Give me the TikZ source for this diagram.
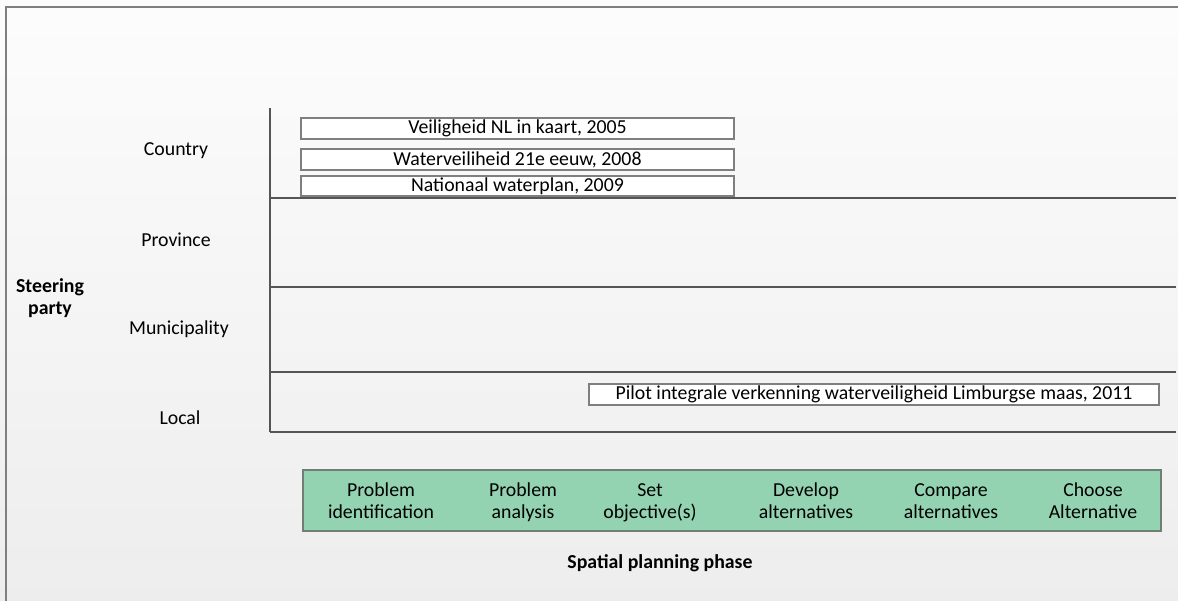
\documentclass[tikz,border=0pt]{standalone}
\usepackage{fontspec}
\setmainfont{Carlito}
\definecolor{framegray}{HTML}{7F7F7F}
\definecolor{axisgray}{HTML}{555555}
\definecolor{phasegreen}{HTML}{93D3B1}
\definecolor{phaseedge}{HTML}{6F7F74}
\newcommand{\phaselines}[2]{\strut#1\\\strut#2}
\tikzset{
  every node/.style={font=\fontsize{19.8}{21.5}\selectfont, text=black},
  label/.style={inner sep=0pt, anchor=center},
  boldlabel/.style={label, font=\fontsize{19.8}{22}\selectfont\bfseries, align=center},
  studybox/.style={draw=framegray, line width=1.3pt, fill=white, inner sep=0pt,
    minimum height=21pt, anchor=center},
  phasetext/.style={label, align=center},
  axisline/.style={draw=axisgray, line width=2.2pt},
  levelline/.style={draw=axisgray, line width=1.7pt},
}
\begin{document}
\begin{tikzpicture}[x=1pt, y=-1pt]
  % page and background
  \useasboundingbox (0,0) rectangle (1178,601);
  \shade[top color=white!99!black, bottom color=white!93!black] (0,0) rectangle (1178,601);
  \draw[framegray, line width=1.5pt] (6,601) -- (6,7) -- (1178,7);

  % axes and level separators
  \coordinate (axtop) at (270,108);
  \coordinate (axorig) at (270,432);
  \coordinate (axend) at (1176,432);
  \coordinate (l1a) at (270,198); \coordinate (l1b) at (1176,198);
  \coordinate (l2a) at (270,287); \coordinate (l2b) at (1176,287);
  \coordinate (l3a) at (270,372); \coordinate (l3b) at (1176,372);
  \draw[axisline] (axtop) -- (axorig);
  \draw[axisline, line width=2.8pt] (axorig) -- (axend);
  \draw[levelline] (l1a) -- (l1b);
  \draw[levelline] (l2a) -- (l2b);
  \draw[levelline] (l3a) -- (l3b);

  % steering parties
  \node[label] (country) at (176,151) {Country};
  \node[label] (province) at (176,240) {Province};
  \node[label] (municip) at (179,329) {Municipality};
  \node[label] (local) at (180,418) {Local};
  \node[boldlabel] (steer) at (50,298) {Steering\\party};

  % studies per level
  \node[studybox, minimum width=433pt] (s2005) at (517.5,128.5) {Veiligheid NL in kaart, 2005};
  \node[studybox, minimum width=433pt] (s2008) at (517.5,159.5) {Waterveiliheid 21e eeuw, 2008};
  \node[studybox, minimum width=433pt, minimum height=20pt] (s2009) at (517.5,186) {Nationaal waterplan, 2009};
  \node[studybox, minimum width=570pt] (s2011) at (874,394.5) {Pilot integrale verkenning waterveiligheid Limburgse maas, 2011};

  % planning phases
  \node[draw=phaseedge, fill=phasegreen, line width=1.3pt, minimum width=858pt,
        minimum height=61pt, inner sep=0pt] (phases) at (732,500.5) {};
  \node[phasetext] (p1) at (381,503) {\phaselines{Problem}{identification}};
  \node[phasetext] (p2) at (523,503) {\phaselines{Problem}{analysis}};
  \node[phasetext] (p3) at (650,503) {\phaselines{Set}{objective(s)}};
  \node[phasetext] (p4) at (806,503) {\phaselines{Develop}{alternatives}};
  \node[phasetext] (p5) at (951,503) {\phaselines{Compare}{alternatives}};
  \node[phasetext] (p6) at (1093,503) {\phaselines{Choose}{Alternative}};
  \node[boldlabel] (phaselabel) at (660,563) {Spatial planning phase};
\end{tikzpicture}
\end{document}
